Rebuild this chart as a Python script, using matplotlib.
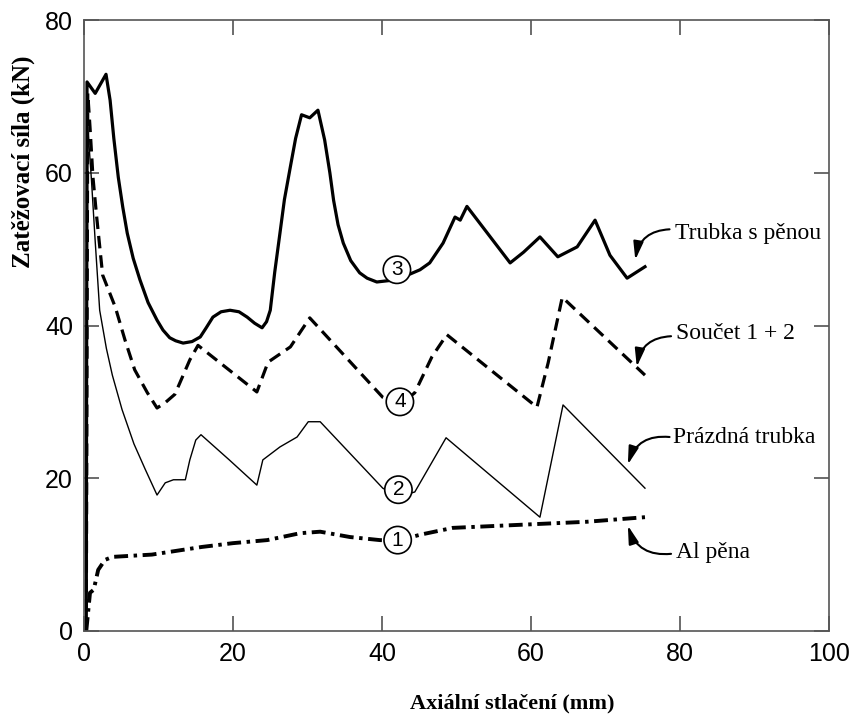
import matplotlib
matplotlib.use("Agg")
import matplotlib.pyplot as plt

plt.rcParams['lines.scale_dashes'] = False

# ── DATA ─────────────────────────────────────────────────────────────────────
# 3: Trubka s pěnou (tube with foam)
x3 = [0.3, 0.4, 1.5, 2.95, 3.5, 4.0, 4.6, 5.2, 5.8, 6.6, 7.5, 8.6, 9.8,
      10.6, 11.5, 12.3, 13.3, 14.5, 15.6, 16.4, 17.3, 18.4, 19.6, 20.8, 21.9,
      22.9, 23.9, 24.5, 25.0, 25.6, 26.3, 26.9, 27.7, 28.4, 29.2, 30.3, 31.4,
      32.3, 33.0, 33.5, 34.1, 34.8, 35.8, 37.0, 38.0, 39.3, 42.0, 45.1, 46.4,
      48.2, 49.8, 50.5, 51.4, 57.2, 59.0, 61.2, 63.6, 66.2, 68.6, 70.6, 72.9,
      75.3]
y3 = [0.0, 71.9, 70.4, 72.9, 69.5, 64.5, 59.4, 55.5, 52.1, 48.8, 46.0, 43.0,
      40.7, 39.4, 38.4, 38.0, 37.7, 37.9, 38.5, 39.7, 41.1, 41.8, 42.0, 41.8,
      41.1, 40.3, 39.7, 40.5, 42.0, 47.0, 52.1, 56.5, 60.8, 64.5, 67.6, 67.2,
      68.2, 64.3, 60.0, 56.4, 53.2, 50.8, 48.5, 46.9, 46.2, 45.7, 46.0, 47.3,
      48.2, 50.8, 54.2, 53.8, 55.6, 48.2, 49.6, 51.6, 49.0, 50.3, 53.8, 49.2,
      46.2, 47.7]

# 4: Součet 1 + 2 (sum)
x4 = [0.3, 0.5, 0.8, 1.2, 1.7, 2.5, 4.2, 5.5, 6.8, 8.5, 9.8, 10.9, 12.2,
      14.2, 15.3, 23.2, 24.7, 27.7, 30.3, 40.1, 42.4, 44.4, 46.7, 48.7, 60.8,
      62.3, 64.2, 75.3]
y4 = [0.0, 70.4, 66.0, 59.4, 54.2, 46.6, 42.4, 38.1, 34.2, 31.2, 29.2, 29.9,
      31.0, 35.5, 37.4, 31.3, 35.2, 37.2, 41.0, 30.6, 29.6, 31.2, 35.9, 38.8,
      29.3, 35.1, 43.7, 33.5]

# 2: Prázdná trubka (empty tube)
x2 = [0.3, 0.5, 1.0, 1.5, 2.1, 3.0, 3.8, 5.1, 6.7, 8.2, 9.8, 10.9, 12.0,
      13.6, 14.2, 15.0, 15.7, 19.5, 23.2, 24.0, 26.3, 28.6, 30.1, 31.7, 40.1,
      42.2, 44.4, 48.6, 61.2, 64.3, 75.3]
y2 = [0.0, 66.0, 59.0, 51.0, 42.0, 37.0, 33.5, 29.0, 24.5, 21.2, 17.8, 19.4,
      19.8, 19.8, 22.4, 25.0, 25.7, 22.4, 19.1, 22.4, 24.1, 25.4, 27.4, 27.4,
      18.7, 17.6, 18.2, 25.3, 14.9, 29.6, 18.7]

# 1: Al pěna (aluminium foam)
x1 = [0.3, 0.8, 1.3, 1.9, 2.8, 3.8, 9.1, 15.8, 20.0, 24.6, 29.0, 31.7, 35.7,
      39.7, 42.1, 45.1, 49.5, 58.5, 67.5, 75.3]
y1 = [0.0, 5.0, 5.4, 8.0, 9.3, 9.7, 10.0, 11.0, 11.5, 11.9, 12.8, 13.0, 12.3,
      11.9, 11.8, 12.6, 13.5, 13.9, 14.3, 14.9]

labels = ['Trubka s pěnou', 'Součet 1 + 2', 'Prázdná trubka', 'Al pěna']
circle_ids = ['3', '4', '2', '1']

# ── CHART ────────────────────────────────────────────────────────────────────
fig = plt.figure(figsize=(8.54, 7.17), dpi=100)
ax = fig.add_axes([0.0984, 0.120, 0.8723, 0.852])

ax.plot(x3, y3, color='black', lw=2.3, solid_joinstyle='round')
ax.plot(x4, y4, color='black', lw=2.3, dashes=(9, 5))
ax.plot(x2, y2, color='black', lw=1.0)
ax.plot(x1, y1, color='black', lw=2.8, dashes=(10, 4, 2.5, 4))

ax.set_xlim(0, 100)
ax.set_ylim(0, 80)
ax.set_xticks([0, 20, 40, 60, 80, 100])
ax.set_yticks([0, 20, 40, 60, 80])
ax.tick_params(direction='in', length=11, width=1.1, color='#444444',
               top=True, right=True, pad=8, labelsize=18)
for lab in ax.get_xticklabels() + ax.get_yticklabels():
    lab.set_family('Liberation Sans')
for spine in ax.spines.values():
    spine.set_edgecolor('#555555')
    spine.set_linewidth(1.2)

ax.set_xlabel('Axiální stlačení (mm)', family='Liberation Serif',
              fontweight='bold', fontsize=16)
ax.xaxis.set_label_coords(0.575, -0.103)
ax.set_ylabel('Zatěžovací síla (kN)', family='Liberation Serif',
              fontweight='bold', fontsize=18)
ax.yaxis.set_label_coords(-0.066, 0.768)

# circled curve numbers
circ_x = [42.0, 42.4, 42.2, 42.1]
circ_y = [47.3, 30.0, 18.5, 11.9]
for cx, cy, cid in zip(circ_x, circ_y, circle_ids):
    ax.text(cx, cy, cid, ha='center', va='center', fontsize=15,
            family='Liberation Sans', zorder=5,
            bbox=dict(boxstyle='circle,pad=0.2', fc='white', ec='black',
                      lw=1.2))

# right-side names with curved arrows
txt_x = [79.3, 79.5, 79.1, 79.5]
txt_y = [52.1, 39.0, 25.3, 10.3]
tail = [(78.6, 52.6), (78.8, 38.6), (78.6, 25.4), (78.8, 10.1)]
tip = [(74.0, 48.6), (74.2, 34.6), (73.0, 21.8), (73.0, 13.8)]
rads = [0.4, 0.4, 0.4, -0.4]
for tx, ty, lab, t0, t1, r in zip(txt_x, txt_y, labels, tail, tip, rads):
    ax.text(tx, ty, lab, ha='left', va='center', fontsize=17,
            family='Liberation Serif')
    ax.annotate('', xy=t1, xytext=t0,
                arrowprops=dict(arrowstyle='-|>,head_length=0.9,head_width=0.25',
                                connectionstyle=f'arc3,rad={r}',
                                color='black', lw=1.5, mutation_scale=12,
                                shrinkA=0, shrinkB=0))

fig.savefig('out.png', dpi=100, facecolor='white')
